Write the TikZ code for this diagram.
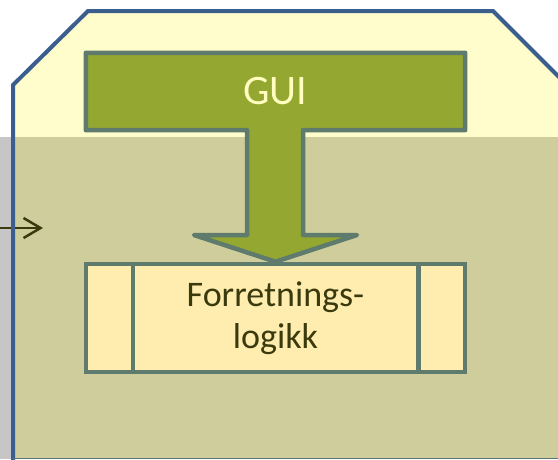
\documentclass[tikz,border=0pt]{standalone}
\usepackage{fontspec}
\setmainfont{Carlito}
\usepackage{xcolor}
\usepackage{tikz}
\usetikzlibrary{arrows.meta,backgrounds}
\definecolor{bandgray}{HTML}{C6C6C6}
\definecolor{tieryellow}{HTML}{FFFDCC}
\definecolor{tierolive}{HTML}{CFCD9B}
\definecolor{tierblue}{HTML}{3A5F8F}
\definecolor{boxedge}{HTML}{5F7B6E}
\definecolor{guigreen}{HTML}{93A731}
\definecolor{logicfill}{HTML}{FFEDAF}
\definecolor{darktext}{HTML}{3A3A0E}
\definecolor{guitext}{HTML}{FFFDC0}
\tikzset{
  guibox/.style={rectangle, minimum width=379pt, minimum height=77pt,
    text=guitext, font=\fontsize{42}{48}\selectfont},
  logicbox/.style={rectangle, draw=boxedge, line width=4.5pt, fill=logicfill,
    minimum width=379pt, minimum height=108pt, align=center,
    text=darktext, font=\fontsize{36}{42}\selectfont},
  blockarrow/.style={draw=boxedge, line width=4.5pt, fill=guigreen, line join=round},
  flow/.style={draw=darktext, line width=2.5pt, -{Straight Barb[length=17pt,width=20pt]}}
}

\begin{document}
\begin{tikzpicture}[x=1pt,y=-1pt]
\useasboundingbox (0,0) rectangle (558,459);
\node[guibox] (gui) at (275.5,91.5) {GUI};
\node[logicbox] (logic) at (275.5,318) {Forretnings-\\logikk};
\draw[boxedge, line width=4.5pt] ([xshift=49pt]logic.north west) -- ([xshift=49pt]logic.south west);
\draw[boxedge, line width=4.5pt] ([xshift=-49pt]logic.north east) -- ([xshift=-49pt]logic.south east);
\coordinate (src) at (0,228);
\coordinate (entry) at (43,228);
\begin{pgfonlayer}{background}
  % tier and band
  \fill[bandgray] (0,137) rectangle (558,459);
  \fill[tieryellow] (13,459) -- (13,85) -- (88,11) -- (493,11) -- (558,76) -- (558,459) -- cycle;
  \begin{scope}
    \clip (13,459) -- (13,85) -- (88,11) -- (493,11) -- (558,76) -- (558,459) -- cycle;
    \fill[tierolive] (0,137) rectangle (558,459);
  \end{scope}
  \draw[flow] (src) -- (entry);
  \draw[tierblue, line width=4pt] (13,462) -- (13,85) -- (88,11) -- (493,11) -- (562,80);
  \draw[boxedge!80!tierblue, line width=1pt] (13,458.5) -- (558,458.5);
  % GUI block with arrow down to the logic
  \draw[blockarrow] (gui.north west) -- (gui.north east) -- (gui.south east)
    -- (303,130) -- (303,235) -- (357,235) -- (logic.north) -- (194,235)
    -- (247,235) -- (247,130) -- (gui.south west) -- cycle;
\end{pgfonlayer}
\end{tikzpicture}
\end{document}
